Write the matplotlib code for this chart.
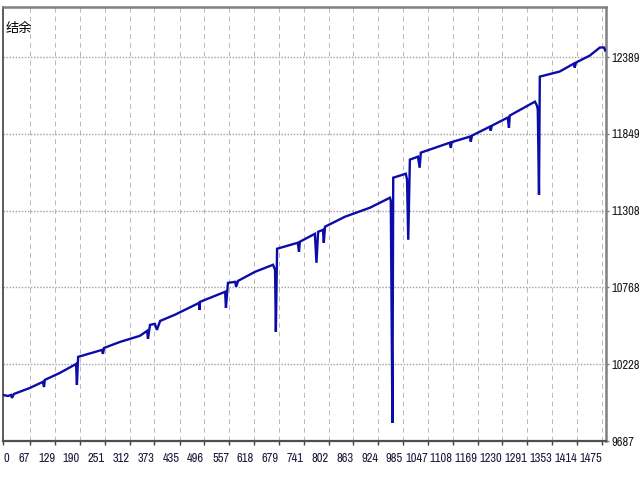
import matplotlib
matplotlib.use("Agg")
import matplotlib.pyplot as plt
from matplotlib import font_manager

# balance curve: trade number / balance
trade = [0, 12, 20, 22, 27, 66, 98, 101, 103, 140, 180, 182, 185, 227, 244, 246,
         249, 288, 337, 355, 357, 362, 374, 379, 387, 423, 483, 484, 485, 547,
         549, 554, 572, 574, 579, 621, 665, 670, 672, 675, 726, 729, 731, 768,
         772, 776, 788, 790, 793, 842, 904, 953, 955, 959, 961, 977, 992, 995,
         998, 1002, 1022, 1026, 1029, 1100, 1103, 1105, 1150, 1152, 1155, 1199,
         1201, 1204, 1243, 1246, 1248, 1310, 1315, 1317, 1320, 1322, 1371, 1406,
         1408, 1411, 1445, 1470, 1480, 1483]
balance = [10011, 10004, 10011, 9990, 10018, 10060, 10103, 10067, 10117, 10166,
           10229, 10082, 10279, 10314, 10328, 10300, 10342, 10384, 10427, 10462,
           10406, 10504, 10511, 10469, 10532, 10575, 10659, 10610, 10666, 10737,
           10624, 10800, 10807, 10772, 10814, 10878, 10927, 10892, 10455, 11040,
           11082, 11019, 11089, 11145, 10941, 11159, 11173, 11082, 11195, 11265,
           11329, 11399, 11378, 9814, 11540, 11554, 11568, 11526, 11103, 11667,
           11688, 11610, 11716, 11786, 11750, 11790, 11829, 11794, 11836, 11899,
           11871, 11906, 11963, 11892, 11977, 12075, 12047, 12019, 11420, 12251,
           12287, 12343, 12315, 12350, 12399, 12456, 12456, 12435]

x_ticks = [0, 67, 129, 190, 251, 312, 373, 435, 496, 557, 618, 679, 741, 802,
           863, 924, 985, 1047, 1108, 1169, 1230, 1291, 1353, 1414, 1475]
y_ticks = [9687, 10228, 10768, 11308, 11849, 12389]
y_label = "结余"

# pick a narrow face for the numbers if one is installed
num_font = "Liberation Sans"
num_stretch = "normal"
num_size = 7.0
for f in font_manager.fontManager.ttflist:
    if "Narrow" in f.name or "Condensed" in f.name:
        num_font, num_size = f.name, 9.0
        break
    if f.name == "DejaVu Sans" and f.stretch == "condensed":
        num_font, num_stretch, num_size = "DejaVu Sans", "condensed", 7.5
cjk_font = ["Noto Sans CJK SC", "DejaVu Sans"]

fig = plt.figure(figsize=(6.4, 4.8), dpi=100)
ax = fig.add_axes([3 / 640, 1 - 441 / 480, 603 / 640, 434 / 480])

# grid: dashed verticals, dotted horizontals
for xv in x_ticks[1:]:
    ax.axvline(xv, color="#b8b8b8", lw=0.7, linestyle=(0, (5, 4)), zorder=1)
for yv in y_ticks[1:]:
    ax.axhline(yv, color="#a0a0a0", lw=1.0, linestyle=(0, (1, 1.2)), zorder=1)

ax.plot(trade, balance, color="#0c0ca8", lw=1.7, zorder=3,
        solid_joinstyle="miter")

ax.set_xlim(0, 1485)
ax.set_ylim(9687, 12741)

ax.set_xticks(x_ticks)
xl = ax.set_xticklabels([str(v) for v in x_ticks], family=num_font,
                        fontstretch=num_stretch, fontsize=num_size,
                        ha="right", color="#1a1a3a")
xl[0].set_ha("left")
ax.tick_params(axis="x", direction="out", length=3, width=1, color="#404040",
               pad=6)

ax.yaxis.tick_right()
ax.set_yticks(y_ticks)
ax.set_yticklabels([str(v) for v in y_ticks], family=num_font,
                   fontstretch=num_stretch, fontsize=num_size,
                   color="#1a1a1a")
ax.tick_params(axis="y", direction="out", length=2, width=1, color="#808080",
               pad=2)

ax.text(0.004, 0.965, y_label, transform=ax.transAxes, family=cjk_font,
        fontsize=9.5, va="top", ha="left", color="black")

for side in ["top", "right"]:
    ax.spines[side].set_color("#808080")
    ax.spines[side].set_linewidth(1.8)
ax.spines["left"].set_color("#404040")
ax.spines["left"].set_linewidth(1.2)
ax.spines["bottom"].set_color("#505050")
ax.spines["bottom"].set_linewidth(1.6)

fig.savefig("out.png", dpi=100)
